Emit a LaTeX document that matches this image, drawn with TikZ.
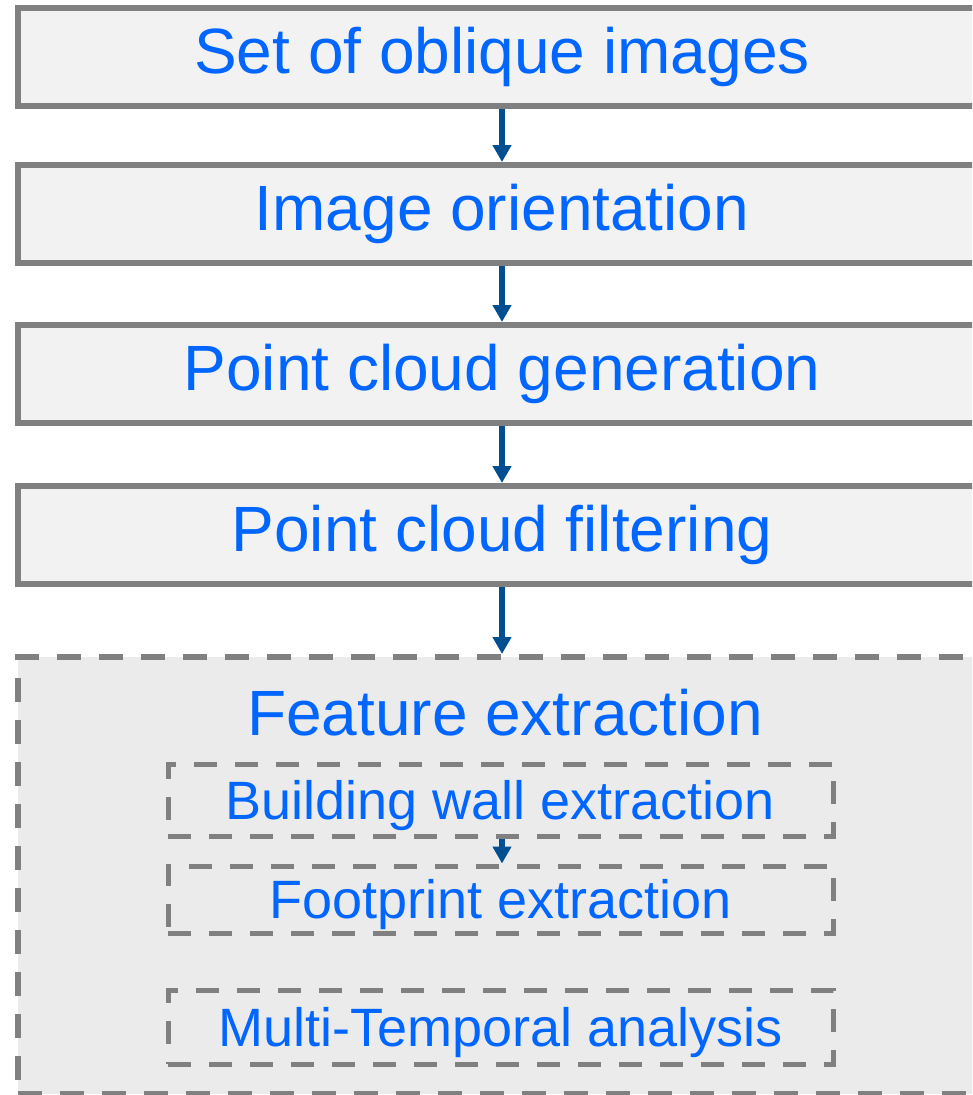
\documentclass[tikz,border=0pt]{standalone}
\usepackage{fontspec}
\setmainfont{Liberation Sans}
\usetikzlibrary{arrows.meta}
\definecolor{txtblue}{RGB}{0,102,255}
\definecolor{arrblue}{RGB}{0,80,145}
\definecolor{edgegray}{RGB}{128,128,128}
\definecolor{boxfill}{RGB}{242,242,242}
\definecolor{bigfill}{RGB}{235,235,235}
\begin{document}
\begin{tikzpicture}[x=1pt,y=-1pt,
  stagebox/.style={draw=edgegray, line width=6pt, fill=boxfill, minimum width=968pt,
    text=txtblue, font=\fontsize{64pt}{70pt}\selectfont, text height=46pt, text depth=13pt,
    inner sep=0pt},
  bigbox/.style={draw=edgegray, line width=6pt, fill=bigfill, dash pattern=on 24pt off 18pt,
    minimum width=968pt, inner sep=0pt},
  bigtitle/.style={text=txtblue, font=\fontsize{64pt}{70pt}\selectfont, inner sep=0pt, anchor=base},
  subbox/.style={draw=edgegray, line width=5pt, dash pattern=on 23pt off 18pt,
    minimum width=665pt, text=txtblue, font=\fontsize{54pt}{60pt}\selectfont,
    text height=38pt, text depth=0pt, inner sep=0pt},
  flowarrow/.style={draw=arrblue, line width=5.5pt, -{Triangle[width=18pt,length=17pt]}}
]
\clip (0,0) rectangle (972,1095);
\fill[white] (0,0) rectangle (972,1095);

\node[stagebox, minimum height=97.5pt] (b1) at (502,56.75) {Set of oblique images};
\node[stagebox, minimum height=98pt] (b2) at (502,214) {Image orientation};
\node[stagebox, minimum height=98pt] (b3) at (502,374) {Point cloud generation};
\node[stagebox, minimum height=98pt] (b4) at (502,535) {Point cloud filtering};

\node[bigbox, minimum height=437pt] (fe) at (502,875.5) {};
\node[bigtitle] (fet) at (505,735) {Feature extraction};

\node[subbox, minimum height=72pt] (bw) at (500.5,800) {Building wall extraction};
\node[subbox, minimum height=67pt] (fp) at (500.5,899.5) {Footprint extraction};
\node[subbox, minimum height=74pt] (mt) at (500.5,1027) {Multi-Temporal analysis};

\draw[flowarrow] (b1.south) -- (b2.north);
\draw[flowarrow] (b2.south) -- (b3.north);
\draw[flowarrow] (b3.south) -- (b4.north);
\draw[flowarrow] (b4.south) -- (fe.north);
\draw[flowarrow] ([xshift=1.5pt]bw.south) -- ([xshift=1.5pt]fp.north);
\end{tikzpicture}
\end{document}
